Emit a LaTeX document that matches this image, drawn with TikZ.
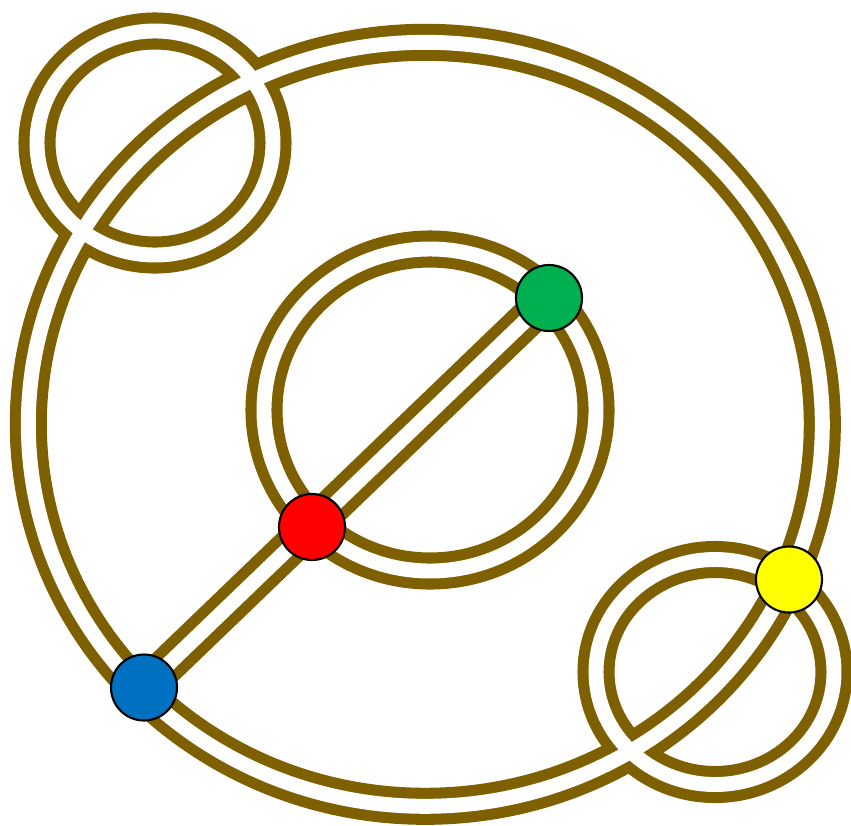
\documentclass[tikz,border=0pt]{standalone}
\usepackage{tikz}
\usetikzlibrary{calc}
\definecolor{railbrown}{HTML}{7F6000}
\definecolor{stgreen}{HTML}{00B050}
\definecolor{stred}{HTML}{FF0000}
\definecolor{stblue}{HTML}{0070C0}
\definecolor{styellow}{HTML}{FFFF00}

\begin{document}
\begin{tikzpicture}[x=0.02cm,y=-0.02cm,
    rail/.style={draw=railbrown, line width=6.3pt, double=white, double distance=8.5pt},
    stop/.style={circle, draw=black, line width=1.2pt, minimum size=1.32cm, inner sep=0pt}]
        \useasboundingbox (0,0) rectangle (851,825);

        % центри кілець
        \coordinate (O) at (425.3,424.3);
        \coordinate (M) at (430,410);
        \coordinate (P) at (155,143);
        \coordinate (Q) at (715,672);

        % станції
        \coordinate (G) at (549,298);
        \coordinate (R) at (312,527);
        \coordinate (B) at (144,687.5);
        \coordinate (Y) at (789,579.5);

        % колії одним шляхом, щоб перетини злилися
        \draw[rail] (O) ellipse [x radius=397, y radius=382]
                    (M) ellipse [x radius=166, y radius=161]
                    (P) ellipse [x radius=118, y radius=112]
                    (Q) ellipse [x radius=119, y radius=112.5]
                    (B) -- (G);

        \node[stop, fill=stgreen] (green) at (G) {};
        \node[stop, fill=stred] (red) at (R) {};
        \node[stop, fill=stblue] (blue) at (B) {};
        \node[stop, fill=styellow] (yellow) at (Y) {};
    \end{tikzpicture}
\end{document}
